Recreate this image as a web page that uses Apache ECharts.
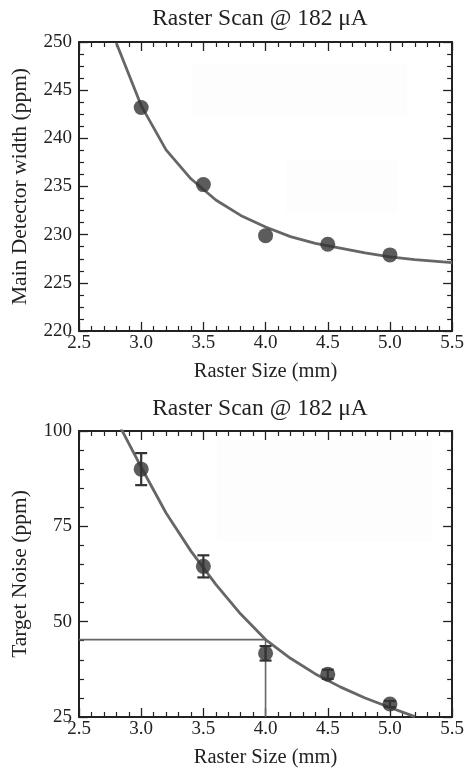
<!DOCTYPE html>
<html><head><meta charset="utf-8">
<script src="https://cdn.jsdelivr.net/npm/echarts@6/dist/echarts.min.js"></script>
<style>html,body{margin:0;padding:0;background:#fff}#c{width:467px;height:769px}</style>
</head><body><div id="c"></div>
<script>
// ---- data ----
const titleText = 'Raster Scan @ 182 μA';
const xName = 'Raster Size (mm)';
const xTicks = [2.5, 3.0, 3.5, 4.0, 4.5, 5.0, 5.5];

// top panel
const topName = 'Main Detector width (ppm)';
const topX = [3.0, 3.5, 4.0, 4.5, 5.0];
const topY = [243.2, 235.2, 229.9, 229.0, 227.9];
const topFitX = [2.8, 3.0, 3.2, 3.4, 3.6, 3.8, 4.0, 4.2, 4.4, 4.6, 4.8, 5.0, 5.2, 5.5];
const topFitY = [249.9, 243.4, 238.8, 235.8, 233.6, 232.0, 230.8, 229.8, 229.1, 228.6, 228.1, 227.7, 227.4, 227.1];

// bottom panel
const botName = 'Target Noise (ppm)';
const botX = [3.0, 3.5, 4.0, 4.5, 5.0];
const botY = [90.0, 64.5, 41.7, 36.2, 28.4];
const botErr = [4.2, 2.9, 1.9, 1.2, 0.8];
const botFitX = [2.8, 3.0, 3.2, 3.4, 3.6, 3.8, 4.0, 4.2, 4.4, 4.6, 4.8, 5.0, 5.2];
const botFitY = [103.0, 90.5, 78.5, 68.5, 59.8, 52.0, 45.3, 40.4, 36.3, 32.9, 30.0, 27.5, 25.1];
const refX = 4.0;
const refY = 45.3;

// ---- styling ----
const FONT = 'Liberation Serif';
const AX = '#222';
const grids = [
  {left: 79, right: 12, top: 42, height: 289},
  {left: 79, right: 12, top: 431, height: 288}
];
function xAxes(gi) {
  const common = {
    type: 'value', gridIndex: gi, min: 2.5, max: 5.5, interval: 0.5,
    axisLine: {show: true, onZero: false, lineStyle: {color: AX, width: 2}},
    axisTick: {show: true, inside: true, length: 9, lineStyle: {color: AX, width: 1.3}},
    minorTick: {show: true, splitNumber: 5, length: 5, lineStyle: {color: AX, width: 1.2}},
    splitLine: {show: false}
  };
  return [
    Object.assign({}, common, {
      position: 'bottom', name: xName, nameLocation: 'middle', nameGap: 30,
      nameTextStyle: {fontFamily: FONT, fontSize: 20.5, color: AX},
      axisLabel: {fontFamily: FONT, fontSize: 19, color: AX, margin: 3,
        formatter: v => xTicks.includes(+v.toFixed(1)) ? v.toFixed(1) : ''}
    }),
    Object.assign({}, common, {position: 'top', axisLabel: {show: false}})
  ];
}
function yAxes(gi, min, max, interval, minorSplit, name) {
  const common = {
    type: 'value', gridIndex: gi, min: min, max: max, interval: interval,
    axisLine: {show: true, onZero: false, lineStyle: {color: AX, width: 2}},
    axisTick: {show: true, inside: true, length: 9, lineStyle: {color: AX, width: 1.3}},
    minorTick: {show: true, splitNumber: minorSplit, length: 5, lineStyle: {color: AX, width: 1.2}},
    splitLine: {show: false}
  };
  return [
    Object.assign({}, common, {
      position: 'left', name: name, nameLocation: 'middle', nameGap: 48,
      nameTextStyle: {fontFamily: FONT, fontSize: 21.5, color: AX},
      axisLabel: {fontFamily: FONT, fontSize: 19, color: AX, margin: 7}
    }),
    Object.assign({}, common, {position: 'right', axisLabel: {show: false}})
  ];
}
const zip = (a, b) => a.map((v, i) => [v, b[i]]);
const fitStyle = {color: '#666', width: 2.8};
const dotColor = '#333';

const option = {
  animation: false,
  backgroundColor: '#fff',
  title: [
    {text: titleText, left: 255, textAlign: 'center', top: 2,
     textStyle: {fontFamily: FONT, fontSize: 23.5, fontWeight: 'normal', color: AX}},
    {text: titleText, left: 255, textAlign: 'center', top: 392,
     textStyle: {fontFamily: FONT, fontSize: 23.5, fontWeight: 'normal', color: AX}}
  ],
  graphic: [
    {type: 'rect', shape: {x: 192, y: 64, width: 215, height: 52}, style: {fill: '#fdfdfd'}, z: -1},
    {type: 'rect', shape: {x: 286, y: 160, width: 112, height: 53}, style: {fill: '#fdfdfd'}, z: -1},
    {type: 'rect', shape: {x: 217, y: 440, width: 215, height: 102}, style: {fill: '#fdfdfd'}, z: -1}
  ],
  grid: grids,
  xAxis: [...xAxes(0), ...xAxes(1)],
  yAxis: [...yAxes(0, 220, 250, 5, 4, topName), ...yAxes(1, 25, 100, 25, 5, botName)],
  series: [
    {type: 'line', xAxisIndex: 0, yAxisIndex: 0, data: zip(topFitX, topFitY), showSymbol: false,
     lineStyle: fitStyle, clip: true, z: 2},
    {type: 'scatter', xAxisIndex: 0, yAxisIndex: 0, data: zip(topX, topY), symbolSize: 15,
     itemStyle: {color: dotColor}, z: 3},
    // reference lines
    {type: 'line', xAxisIndex: 2, yAxisIndex: 2, data: [[2.5, refY], [refX, refY], [refX, 25]],
     showSymbol: false, lineStyle: {color: '#666', width: 1.6}, z: 1},
    {type: 'line', xAxisIndex: 2, yAxisIndex: 2, data: zip(botFitX, botFitY), showSymbol: false,
     lineStyle: fitStyle, clip: true, z: 2},
    {type: 'custom', xAxisIndex: 2, yAxisIndex: 2, z: 3,
     data: botX.map((x, i) => [x, botY[i] - botErr[i], botY[i] + botErr[i]]),
     renderItem: function (params, api) {
       const lo = api.coord([api.value(0), api.value(1)]);
       const hi = api.coord([api.value(0), api.value(2)]);
       const w = 6;
       const st = {stroke: dotColor, lineWidth: 2.2};
       return {type: 'group', children: [
         {type: 'line', shape: {x1: lo[0], y1: lo[1], x2: hi[0], y2: hi[1]}, style: st},
         {type: 'line', shape: {x1: lo[0] - w, y1: lo[1], x2: lo[0] + w, y2: lo[1]}, style: st},
         {type: 'line', shape: {x1: hi[0] - w, y1: hi[1], x2: hi[0] + w, y2: hi[1]}, style: st}
       ]};
     }},
    {type: 'scatter', xAxisIndex: 2, yAxisIndex: 2, data: zip(botX, botY), symbolSize: 15,
     itemStyle: {color: dotColor}, z: 4}
  ]
};
const chart = echarts.init(document.getElementById('c'), null, {renderer: 'canvas'});
chart.setOption(option);
</script></body></html>
